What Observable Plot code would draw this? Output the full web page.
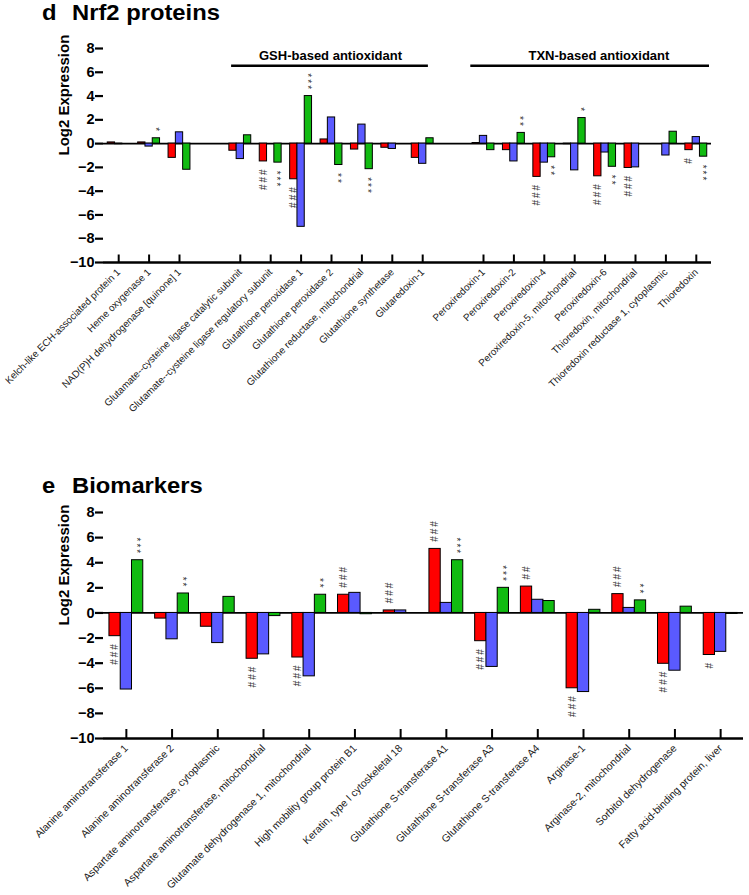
<!DOCTYPE html>
<html><head><meta charset="utf-8">
<script src="https://cdn.jsdelivr.net/npm/d3@7"></script>
<script src="https://cdn.jsdelivr.net/npm/@observablehq/plot@0.6"></script>
<style>
body{margin:0;background:#fff;font-family:"Liberation Sans",Arial,sans-serif;}
#wrap{position:relative;width:749px;height:895px;overflow:hidden;background:#fff;}
#top,#bottom{position:absolute;left:0;}
.title{position:absolute;z-index:5;font-family:"Liberation Sans",Arial,sans-serif;font-weight:bold;font-size:22px;line-height:22px;transform:scaleX(1.08);transform-origin:0 0;white-space:nowrap;color:#000;}
</style></head><body>
<div id="wrap">
  <div id="top" style="top:0px"></div>
  <div id="bottom" style="top:440px"></div>
  <div class="title" style="left:42px;top:2px">d</div>
  <div class="title" style="left:72px;top:2px">Nrf2 proteins</div>
  <div class="title" style="left:42px;top:475px">e</div>
  <div class="title" style="left:72px;top:475px">Biomarkers</div>
</div>
<script>
// ---------- Panel d: Nrf2 proteins ----------
const nrf2Other = ["Kelch-like ECH-associated protein 1", "Heme oxygenase 1", "NAD(P)H dehydrogenase [quinone] 1"];
const nrf2GSH = ["Glutamate--cysteine ligase catalytic subunit", "Glutamate--cysteine ligase regulatory subunit",
  "Glutathione peroxidase 1", "Glutathione peroxidase 2", "Glutathione reductase, mitochondrial",
  "Glutathione synthetase", "Glutaredoxin-1"];
const nrf2TXN = ["Peroxiredoxin-1", "Peroxiredoxin-2", "Peroxiredoxin-4", "Peroxiredoxin-5, mitochondrial",
  "Peroxiredoxin-6", "Thioredoxin, mitochondrial", "Thioredoxin reductase 1, cytoplasmic", "Thioredoxin"];
const nrf2GroupLabels = ["GSH-based antioxidant", "TXN-based antioxidant"];

const nrf2Red   = [0.1, 0.1, -1.2,  -0.6, -1.5, -3.0, 0.35, -0.5, -0.35, -1.2,  0.05, -0.55, -2.8, -0.05, -2.75, -2.05, 0, -0.55];
const nrf2Blue  = [-0.05, -0.25, 0.95,  -1.3, 0, -7.0, 2.2, 1.6, -0.45, -1.7,  0.65, -1.5, -1.6, -2.25, -0.75, -2.0, -1.0, 0.55];
const nrf2Green = [0, 0.45, -2.2,  0.7, -1.6, 4.0, -1.8, -2.15, 0, 0.45,  -0.55, 0.9, -1.15, 2.15, -1.95, 0, 1.0, -1.1];
const nrf2RedSig   = ["", "", "",  "", "###", "###", "", "", "", "",  "", "", "###", "", "###", "###", "", "#"];
const nrf2BlueSig  = ["", "", "",  "", "", "", "", "", "", "",  "", "", "", "", "", "", "", ""];
const nrf2GreenSig = ["", "*", "",  "", "***", "***", "**", "***", "", "",  "", "**", "**", "*", "**", "", "", "***"];

// ---------- Panel e: Biomarkers ----------
const bioProteins = ["Alanine aminotransferase 1", "Alanine aminotransferase 2", "Aspartate aminotransferase, cytoplasmic",
  "Aspartate aminotransferase, mitochondrial", "Glutamate dehydrogenase 1, mitochondrial", "High mobility group protein B1",
  "Keratin, type I cytoskeletal 18", "Glutathione S-transferase A1", "Glutathione S-transferase A3",
  "Glutathione S-transferase A4", "Arginase-1", "Arginase-2, mitochondrial", "Sorbitol dehydrogenase",
  "Fatty acid-binding protein, liver"];
const bioRed   = [-1.85, -0.45, -1.1, -3.65, -3.55, 1.45, 0.2, 5.1, -2.25, 2.1, -6.0, 1.5, -4.05, -3.35];
const bioBlue  = [-6.1, -2.1, -2.4, -3.3, -5.05, 1.6, 0.2, 0.8, -4.3, 1.05, -6.3, 0.4, -4.6, -3.1];
const bioGreen = [4.2, 1.55, 1.28, -0.25, 1.45, -0.1, 0, 4.2, 2.0, 0.95, 0.25, 1.0, 0.5, -0.08];
const bioRedSig   = ["###", "", "", "###", "###", "###", "###", "###", "###", "##", "###", "###", "###", "#"];
const bioBlueSig  = ["", "", "", "", "", "", "", "", "", "", "", "", "", ""];
const bioGreenSig = ["***", "**", "", "", "**", "", "", "***", "***", "", "", "**", "", ""];

const yTicks = [-10, -8, -6, -4, -2, 0, 2, 4, 6, 8];
const seriesColors = ["#ff0000", "#5a5aff", "#11bb11"];

const FONT = "'Liberation Sans', Arial, Helvetica, sans-serif";

function panel(o) {
  const {cats, domain, values, sigs, width, height, mL, mR, mT, mB, groupFrac, labelSize, tickLen, extra} = o;
  const bw = (width - mL - mR) / domain.length;
  const gw = bw * groupFrac, barW = gw / 3, pad = (bw - gw) / 2;
  const ppu = (height - mT - mB) / 18;
  const marks = [];
  marks.push(Plot.ruleY([0], {stroke: "#000", strokeWidth: 1.8}));
  values.forEach((vals, k) => {
    const rows = cats.map((c, i) => ({cat: c, value: vals[i], sig: sigs[k][i]}));
    marks.push(Plot.barY(rows, {x: "cat", y: "value", fill: seriesColors[k], stroke: "#000", strokeWidth: 1,
      insetLeft: pad + k * barW, insetRight: bw - pad - (k + 1) * barW}));
    const dx = (k - 1) * barW;
    const pos = rows.filter(r => r.sig && r.value >= 0);
    const neg = rows.filter(r => r.sig && r.value < 0);
    marks.push(Plot.text(pos, {x: "cat", y: "value", text: r => r.sig.split("").join("\u2009"), rotate: 90, textAnchor: "end",
      dx: dx - 1.5, dy: -7, fontSize: 10, fill: "#333"}));
    marks.push(Plot.text(neg, {x: "cat", y: "value", text: r => r.sig.split("").join("\u2009"), rotate: 90, textAnchor: "start",
      dx: dx - 1.5, dy: 8, fontSize: 10, fill: "#333"}));
  });
  marks.push(Plot.ruleX(cats, {x: d => d, y1: -10, y2: -10 + tickLen / ppu, stroke: "#000", strokeWidth: 2}));
  marks.push(Plot.ruleY([-10], {stroke: "#000", strokeWidth: 2.5}));
  marks.push(Plot.axisY({ticks: yTicks, tickSize: 8, tickPadding: 1, line: true, fontSize: 14.5, fontWeight: "bold",
    strokeWidth: 2.2, label: null, fill: "#000"}));
  marks.push(Plot.axisX({tickSize: 0, tickPadding: 8, tickRotate: -45, fontSize: labelSize, fill: "#1a1a1a",
    tickFormat: d => (cats.includes(d) ? d : ""), label: null}));
  marks.push(Plot.text(["Log2 Expression"], {text: d => d, frameAnchor: "left", dx: -39, rotate: -90,
    fontSize: 15, fontWeight: "bold", fill: "#000"}));
  if (extra) extra(marks, bw);
  return Plot.plot({
    width, height, marginLeft: mL, marginRight: mR, marginTop: mT, marginBottom: mB,
    style: {fontFamily: FONT, background: "transparent", color: "#000", overflow: "visible"},
    x: {type: "band", domain, padding: 0, round: false},
    y: {domain: [-10, 8]},
    marks
  });
}

// top panel
const nrf2Cats = [...nrf2Other, ...nrf2GSH, ...nrf2TXN];
const nrf2Domain = [...nrf2Other, "gap-1", ...nrf2GSH, "gap-2", ...nrf2TXN];
const topPlot = panel({
  cats: nrf2Cats, domain: nrf2Domain,
  values: [nrf2Red, nrf2Blue, nrf2Green], sigs: [nrf2RedSig, nrf2BlueSig, nrf2GreenSig],
  width: 749, height: 420, mL: 103, mR: 38, mT: 48, mB: 158, groupFrac: 0.72, labelSize: 9.9, tickLen: 7.5,
  extra: (marks, bw) => {
    const yLine = 6.54;
    const groups = [nrf2GSH, nrf2TXN];
    const insets = [[6.5, 9.5], [2.5, 2]];
    groups.forEach((g, i) => {
      marks.push(Plot.ruleY([yLine], {x1: () => g[0], x2: () => g[g.length - 1], stroke: "#000", strokeWidth: 2.5,
        insetLeft: insets[i][0], insetRight: insets[i][1]}));
      const mid = g[Math.floor((g.length - 1) / 2)];
      const dx = (g.length % 2 === 0 ? bw / 2 : 0) + (i === 0 ? -1 : 9);
      marks.push(Plot.text([nrf2GroupLabels[i]], {text: d => d, x: () => mid, y: yLine, dx, dy: -6, lineAnchor: "bottom",
        fontSize: 13, fontWeight: "bold", fill: "#000"}));
    });
  }
});
document.getElementById("top").appendChild(topPlot);

// bottom panel
const bottomPlot = panel({
  cats: bioProteins, domain: bioProteins,
  values: [bioRed, bioBlue, bioGreen], sigs: [bioRedSig, bioBlueSig, bioGreenSig],
  width: 749, height: 455, mL: 103, mR: 6, mT: 72, mB: 157, groupFrac: 0.74, labelSize: 10.4, tickLen: 9
});
document.getElementById("bottom").appendChild(bottomPlot);
</script>
</body></html>
